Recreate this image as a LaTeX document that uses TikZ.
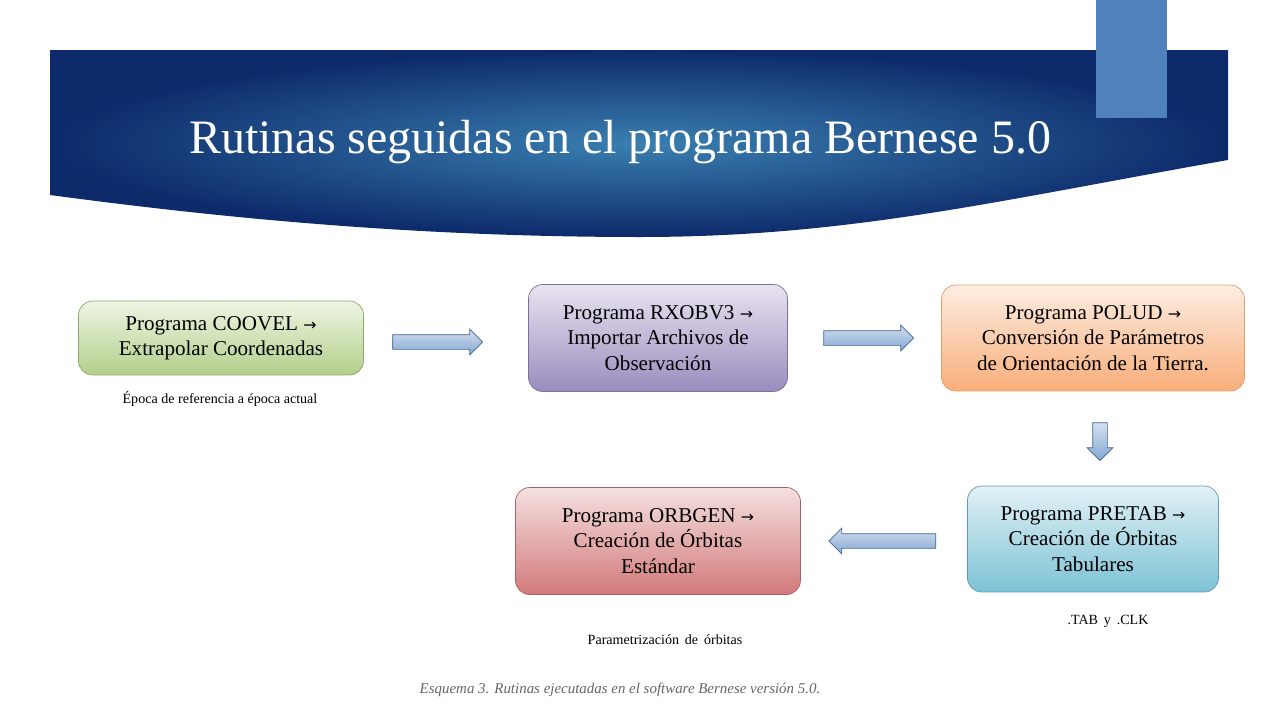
\documentclass[tikz,border=0pt]{standalone}
\usepackage{fontspec}
\setmainfont{Liberation Serif}
\newfontfamily\symf{DejaVu Sans}
\usetikzlibrary{shapes.arrows}
\definecolor{bnav}{HTML}{0D2A6B}
\definecolor{bmid}{HTML}{3A7FB0}
\definecolor{accent}{HTML}{4F81BD}
\definecolor{purb}{HTML}{9A8CBE}
\definecolor{purt}{HTML}{E8E4F0}
\definecolor{grb}{HTML}{B3CF8A}
\definecolor{grt}{HTML}{EEF5E3}
\definecolor{orb}{HTML}{F8AE7A}
\definecolor{ort}{HTML}{FDEDE2}
\definecolor{blb}{HTML}{7DC2D5}
\definecolor{blt}{HTML}{E2F1F6}
\definecolor{rdb}{HTML}{D2797A}
\definecolor{rdt}{HTML}{F5E0E0}
\newcommand{\ar}{{\symf\small →}}
\tikzset{
 pbox/.style={draw, rounded corners=8pt, align=center, font=\fontsize{12pt}{14.5pt}\selectfont, inner sep=3pt},
 barrow/.style={single arrow, draw=accent!80!black, top color=accent!25, bottom color=accent!70, single arrow head extend=0.11cm, inner sep=0.14cm, line width=0.4pt},
 note/.style={font=\fontsize{8pt}{9pt}\selectfont}
}
\begin{document}
\begin{tikzpicture}[x=0.02cm,y=-0.02cm]
\useasboundingbox (0,0) rectangle (1280,720);
\fill[white] (0,0) rectangle (1280,720);
% banner
\shade[inner color=bmid, outer color=bnav] (50,50) -- (1228,50) -- (1228,160) .. controls (1000,200) and (850,237) .. (640,237) .. controls (400,237) and (200,215) .. (50,195) -- cycle;
\fill[white,opacity=0.3] (1228,160) .. controls (1100,190) and (1000,215) .. (880,232) -- (880,230) .. controls (1030,224) and (1150,208) .. (1228,198) -- cycle;
\fill[accent] (1096,0) rectangle (1167,118);
\node[text=white, font=\fontsize{27.3pt}{30pt}\selectfont] (title) at (620,142) {Rutinas seguidas en el programa Bernese 5.0};
% boxes
\node[pbox, draw=grb!80!black, top color=grt, bottom color=grb, minimum width=5.7cm, minimum height=1.48cm] (b1) at (221,338) {Programa COOVEL \ar\\Extrapolar Coordenadas};
\node[pbox, draw=purb!80!black, top color=purt, bottom color=purb, minimum width=5.18cm, minimum height=2.14cm] (b2) at (658,338) {Programa RXOBV3 \ar\\Importar Archivos de\\Observación};
\node[pbox, draw=orb!90!black, top color=ort, bottom color=orb, minimum width=6.06cm, minimum height=2.12cm] (b3) at (1093,338) {Programa POLUD \ar\\Conversión de Parámetros\\de Orientación de la Tierra.};
\node[pbox, draw=blb!80!black, top color=blt, bottom color=blb, minimum width=5.02cm, minimum height=2.12cm] (b4) at (1093,539) {Programa PRETAB \ar\\Creación de Órbitas\\Tabulares};
\node[pbox, draw=rdb!80!black, top color=rdt, bottom color=rdb, minimum width=5.7cm, minimum height=2.14cm] (b5) at (658,541) {Programa ORBGEN \ar\\Creación de Órbitas\\Estándar};
% arrows
\node[barrow, minimum height=1.8cm] (a1) at (434,342) {};
\node[barrow, minimum height=1.8cm] (a2) at (865,338) {};
\node[barrow, minimum height=0.76cm, shape border rotate=270] (a3) at (1100,438) {};
\node[barrow, minimum height=2.14cm, shape border rotate=180] (a4) at (886,541) {};
% notes
\node[note] (n1) at (220,399) {Época de referencia a época actual};
\node[note] (n2) at (1108,621) {.TAB\, y\, .CLK};
\node[note] (n3) at (665,640) {Parametrización\, de\, órbitas};
\node[text=gray!80!black, font=\fontsize{8.5pt}{9pt}\selectfont\itshape] (cap) at (620,690) {Esquema 3. Rutinas ejecutadas en el software Bernese versión 5.0.};
\end{tikzpicture}
\end{document}
